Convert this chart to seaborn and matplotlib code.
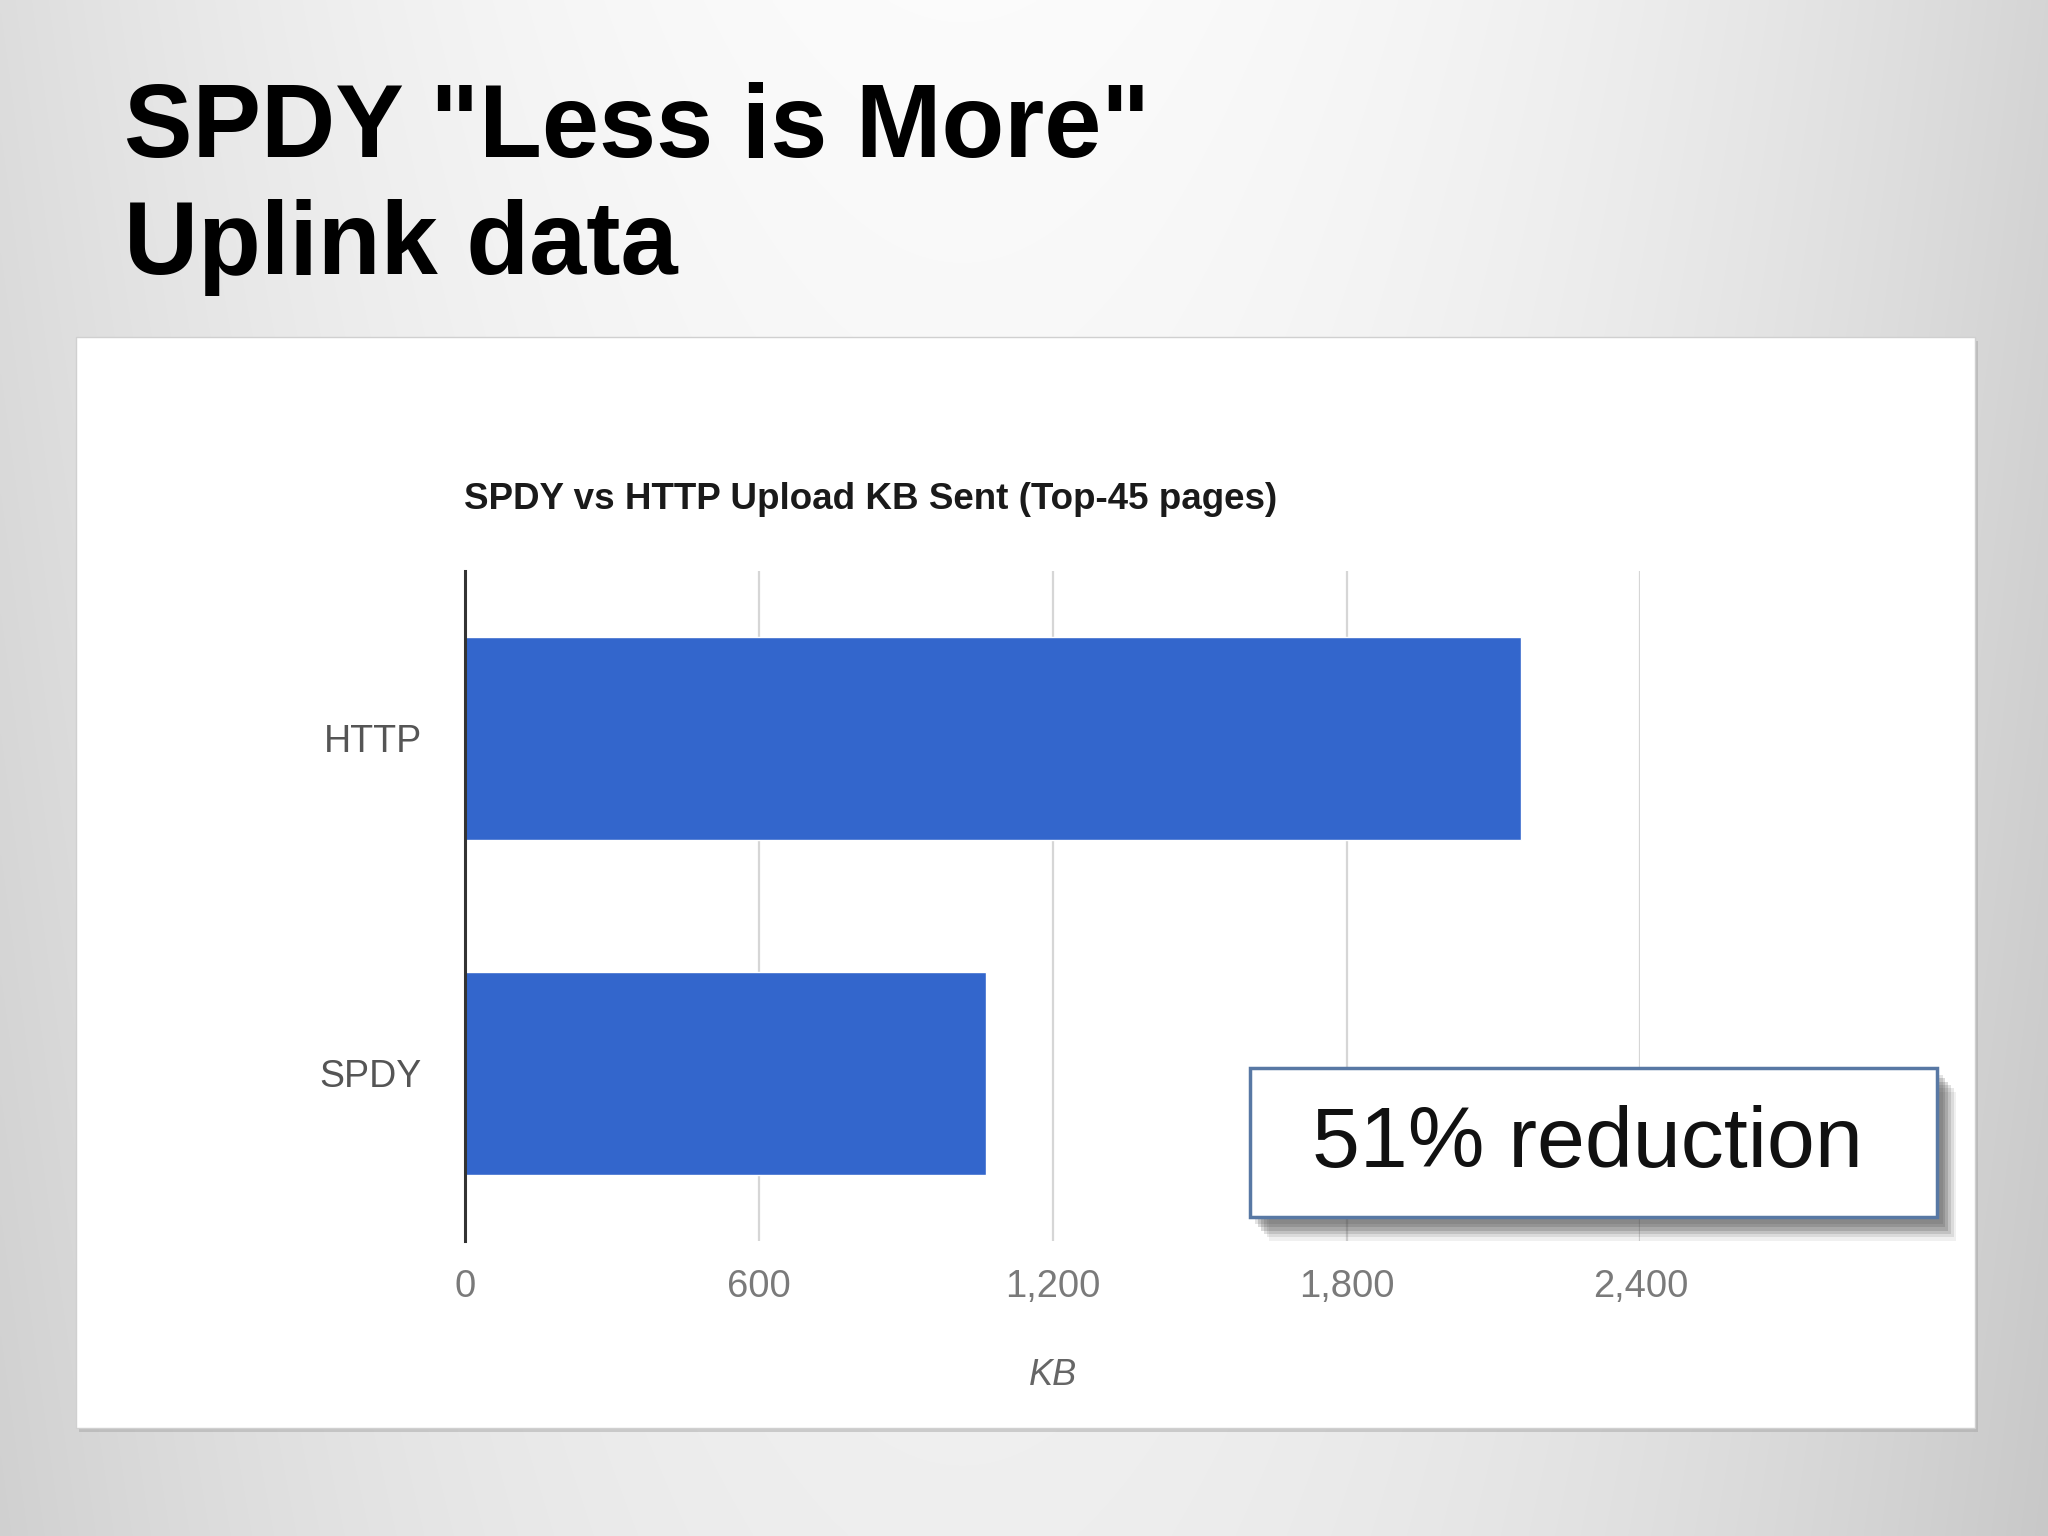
import numpy as np
import pandas as pd
import matplotlib
matplotlib.use("Agg")
import matplotlib.pyplot as plt
import matplotlib.patheffects as pe
from matplotlib.patches import Rectangle
from matplotlib.ticker import FuncFormatter
import seaborn as sns

# ---- data ----
protocols = ["HTTP", "SPDY"]
kb_sent = [2157, 1064]
x_ticks = [0, 600, 1200, 1800, 2400]

slide_title_1 = 'SPDY "Less is More"'
slide_title_2 = "Uplink data"
chart_title = "SPDY vs HTTP Upload KB Sent (Top-45 pages)"
x_label = "KB"
callout = "51% reduction"

sns.set_theme(style="white")
plt.rcParams["font.family"] = ["Liberation Sans", "DejaVu Sans"]

fig = plt.figure(figsize=(20.48, 15.36), dpi=100)

# slide background gradient (bright centre column, darker sides)
bg = fig.add_axes([0, 0, 1, 1], zorder=-10)
yy, xx = np.mgrid[0:1:600j, 0:1:800j]
val = 0.985 - 0.15 * ((xx - 0.47) / 0.53) ** 2 - 0.05 * yy
rgb = np.dstack([val, val, val])
bg.imshow(np.clip(rgb, 0, 1), aspect="auto", extent=[0, 1, 0, 1], origin="upper", interpolation="bilinear")
bg.set_axis_off()

# white panel
panel = Rectangle((0.037, 0.0706), 0.9273, 0.71, transform=fig.transFigure,
                  facecolor="white", edgecolor="#d0d0d0", lw=1.0, zorder=-5,
                  path_effects=[pe.SimplePatchShadow(offset=(2, -3), shadow_rgbFace="#a0a0a0", alpha=0.45), pe.Normal()])
fig.patches.append(panel)

# slide titles
fig.text(0.0606, 0.898, slide_title_1, fontsize=74, fontweight="bold", color="black", va="baseline", ha="left")
fig.text(0.0606, 0.8214, slide_title_2, fontsize=74, fontweight="bold", color="black", va="baseline", ha="left")

# chart axes
ax = fig.add_axes([0.2270, 0.1922, 0.5740, 0.4362])
df = pd.DataFrame({"protocol": protocols, "kb": kb_sent})
sns.barplot(data=df, x="kb", y="protocol", orient="h", color="#3366cc", saturation=1,
            width=0.605, ax=ax, zorder=3)
ax.set_xlim(0, 2400)
ax.set_ylim(1.5, -0.5)
ax.set_xticks(x_ticks)
ax.xaxis.set_major_formatter(FuncFormatter(lambda v, p: f"{int(v):,}"))
ax.grid(axis="x", color="#d6d6d6", lw=1.6, zorder=0)
ax.set_axisbelow(True)
for s in ["top", "right", "bottom"]:
    ax.spines[s].set_visible(False)
ax.spines["left"].set_color("#333333")
ax.spines["left"].set_linewidth(2.2)
ax.spines["left"].set_zorder(5)
ax.tick_params(axis="x", length=0, pad=20, labelsize=27.5, labelcolor="#7a7a7a")
ax.tick_params(axis="y", length=0, pad=31, labelsize=27, labelcolor="#555555")
ax.set_ylabel("")
ax.set_xlabel("")
ax.patch.set_alpha(0)

# chart title and axis title
fig.text(0.2264, 0.6684, chart_title, fontsize=26.5, fontweight="bold", color="#1a1a1a",
         va="baseline", ha="left")
fig.text(0.514, 0.1046, x_label, fontsize=26, style="italic", color="#666666", ha="center", va="center")

# callout box with soft shadow
shadows = [pe.SimplePatchShadow(offset=(o, -o * 1.2), shadow_rgbFace="#444444", alpha=a)
           for o, a in [(14, 0.08), (12, 0.12), (10, 0.16), (8, 0.2), (6, 0.2), (4, 0.15)]]
box = Rectangle((0.6103, 0.2075), 0.3355, 0.0969, transform=fig.transFigure,
                facecolor="white", edgecolor="#5878a4", lw=2.5, zorder=20,
                path_effects=shadows + [pe.Normal()])
fig.patches.append(box)
fig.text(0.7749, 0.2545, callout, fontsize=62, color="#111111", ha="center", va="center", zorder=21)

fig.savefig("out.png", dpi=100)
